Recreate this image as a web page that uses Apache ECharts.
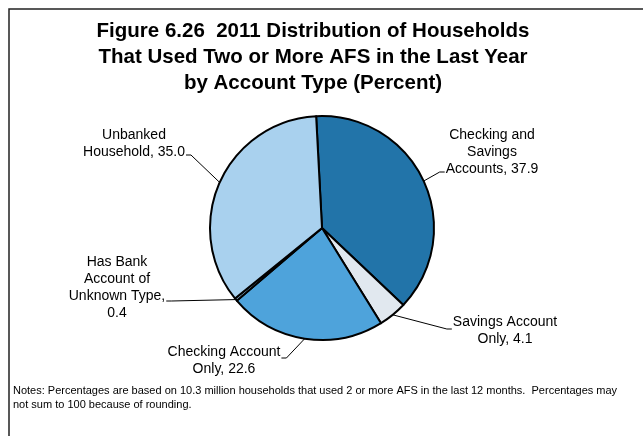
<!DOCTYPE html>
<html>
<head>
<meta charset="utf-8">
<script src="https://cdn.jsdelivr.net/npm/echarts@6/dist/echarts.min.js"></script>
<style>
  html, body { margin: 0; padding: 0; background: #fff; }
  #main { width: 643px; height: 436px; }
</style>
</head>
<body>
<div id="main"></div>
<script>
// account types, clockwise from the top
var categories = [
  'Checking and\nSavings\nAccounts',
  'Savings Account\nOnly',
  'Checking Account\nOnly',
  'Has Bank\nAccount of\nUnknown Type,',
  'Unbanked\nHousehold'
];
var values = [37.9, 4.1, 22.6, 0.4, 35.0];
var colors = ['#2274A9', '#E1E8EF', '#4EA3DB', '#8DB3CF', '#A9D1EE'];

// centre of each label block, and where its leader line joins it
// side: 'l' / 'r' edge of the block, dy: offset from block centre
var labelPos = [
  [492, 152],
  [505, 331],
  [224, 361],
  [117, 288],
  [134, 144]
];
var joins = [
  { side: 'l', dy: 20 },
  { side: 'l', dy: -2 },
  { side: 'r', dy: -3 },
  { side: 'r', dy: 13 },
  { side: 'r', dy: 11 }
];

var mychart = echarts.init(document.getElementById('main'));

var pieData = categories.map(function (name, i) {
  return { name: name, value: values[i], itemStyle: { color: colors[i] } };
});

var option = {
  animation: false,
  title: {
    text: 'Figure 6.26  2011 Distribution of Households\nThat Used Two or More AFS in the Last Year\nby Account Type (Percent)',
    left: 308,
    top: 13,
    textAlign: 'center',
    textStyle: {
      fontFamily: 'Liberation Sans, Arial, sans-serif',
      fontWeight: 'bold',
      fontSize: 20.5,
      lineHeight: 26,
      color: '#000'
    }
  },
  graphic: [
    {
      type: 'rect',
      shape: { x: 9, y: 9, width: 700, height: 500 },
      style: { fill: 'none', stroke: '#222', lineWidth: 1.5 },
      silent: true
    },
    {
      type: 'text',
      left: 13,
      top: 384,
      style: {
        text: 'Notes: Percentages are based on 10.3 million households that used 2 or more AFS in the last 12 months.  Percentages may\nnot sum to 100 because of rounding.',
        fontFamily: 'Liberation Sans, Arial, sans-serif',
        fontSize: 11,
        lineHeight: 14,
        fill: '#000'
      }
    }
  ],
  series: [{
    type: 'pie',
    center: [322, 228],
    radius: 112,
    startAngle: 93,
    clockwise: true,
    itemStyle: { borderColor: '#000', borderWidth: 2 },
    label: {
      show: true,
      position: 'outside',
      formatter: function (p) {
        var sep = p.name.charAt(p.name.length - 1) === ',' ? '\n' : ', ';
        return p.name + sep + p.value.toFixed(1);
      },
      fontFamily: 'Liberation Sans, Arial, sans-serif',
      fontSize: 14,
      lineHeight: 17,
      color: '#000',
      align: 'center'
    },
    labelLine: {
      show: true,
      length: 10,
      length2: 6,
      lineStyle: { color: '#000', width: 1 }
    },
    labelLayout: function (params) {
      var i = params.dataIndex;
      var p = labelPos[i];
      var j = joins[i];
      var w = params.labelRect.width;
      var ex = j.side === 'l' ? p[0] - w / 2 - 1 : p[0] + w / 2 + 1;
      var ey = p[1] + j.dy;
      var mx = j.side === 'l' ? ex - 5 : ex + 5;
      var anchor = params.labelLinePoints ? params.labelLinePoints[0] : [mx, ey];
      return {
        x: p[0],
        y: p[1],
        align: 'center',
        verticalAlign: 'middle',
        labelLinePoints: [anchor, [mx, ey], [ex, ey]]
      };
    },
    data: pieData
  }]
};

mychart.setOption(option);
</script>
</body>
</html>
